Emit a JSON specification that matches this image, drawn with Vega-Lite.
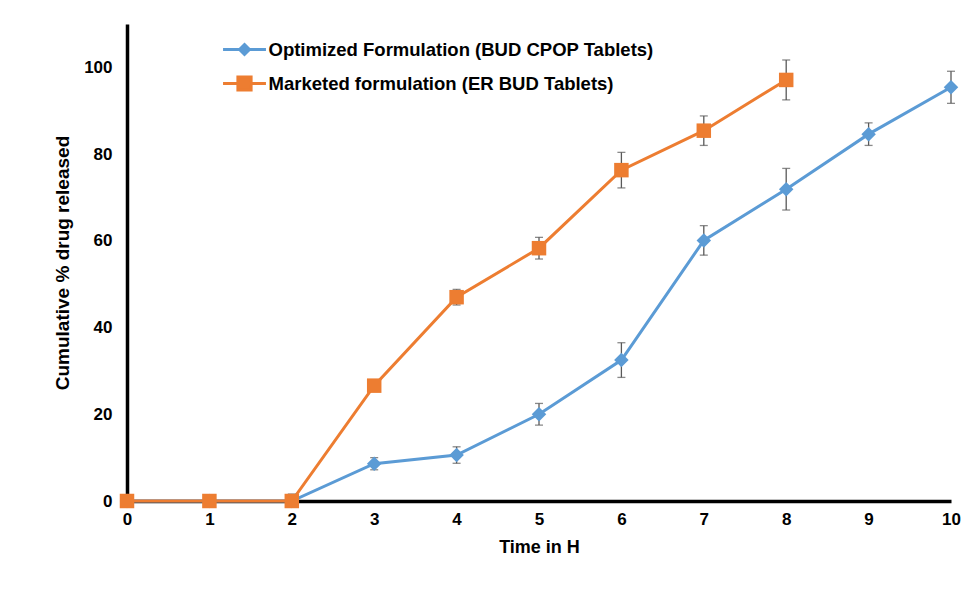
{
  "$schema": "https://vega.github.io/schema/vega-lite/v6.json",
  "width": 824,
  "height": 477,
  "autosize": "none",
  "padding": {"left": 127, "top": 24, "right": 26, "bottom": 98},
  "background": "white",
  "config": {
    "view": {"stroke": null},
    "font": "Liberation Sans"
  },
  "data": {
    "values": [
      {"series": "Optimized Formulation (BUD CPOP Tablets)", "t": 0, "v": 0, "lo": 0, "hi": 0},
      {"series": "Optimized Formulation (BUD CPOP Tablets)", "t": 1, "v": 0, "lo": 0, "hi": 0},
      {"series": "Optimized Formulation (BUD CPOP Tablets)", "t": 2, "v": 0, "lo": 0, "hi": 1.6},
      {"series": "Optimized Formulation (BUD CPOP Tablets)", "t": 3, "v": 8.6, "lo": 7.2, "hi": 10.0},
      {"series": "Optimized Formulation (BUD CPOP Tablets)", "t": 4, "v": 10.6, "lo": 8.7, "hi": 12.5},
      {"series": "Optimized Formulation (BUD CPOP Tablets)", "t": 5, "v": 20.0, "lo": 17.5, "hi": 22.5},
      {"series": "Optimized Formulation (BUD CPOP Tablets)", "t": 6, "v": 32.5, "lo": 28.5, "hi": 36.5},
      {"series": "Optimized Formulation (BUD CPOP Tablets)", "t": 7, "v": 60.1, "lo": 56.7, "hi": 63.5},
      {"series": "Optimized Formulation (BUD CPOP Tablets)", "t": 8, "v": 71.9, "lo": 67.1, "hi": 76.7},
      {"series": "Optimized Formulation (BUD CPOP Tablets)", "t": 9, "v": 84.6, "lo": 82.0, "hi": 87.2},
      {"series": "Optimized Formulation (BUD CPOP Tablets)", "t": 10, "v": 95.4, "lo": 91.7, "hi": 99.1},
      {"series": "Marketed formulation (ER BUD Tablets)", "t": 0, "v": 0, "lo": 0, "hi": 0},
      {"series": "Marketed formulation (ER BUD Tablets)", "t": 1, "v": 0, "lo": 0, "hi": 0},
      {"series": "Marketed formulation (ER BUD Tablets)", "t": 2, "v": 0, "lo": 0, "hi": 0},
      {"series": "Marketed formulation (ER BUD Tablets)", "t": 3, "v": 26.6, "lo": 26.1, "hi": 27.1},
      {"series": "Marketed formulation (ER BUD Tablets)", "t": 4, "v": 47.0, "lo": 45.2, "hi": 48.8},
      {"series": "Marketed formulation (ER BUD Tablets)", "t": 5, "v": 58.3, "lo": 55.8, "hi": 60.8},
      {"series": "Marketed formulation (ER BUD Tablets)", "t": 6, "v": 76.3, "lo": 72.2, "hi": 80.4},
      {"series": "Marketed formulation (ER BUD Tablets)", "t": 7, "v": 85.4, "lo": 82.0, "hi": 88.8},
      {"series": "Marketed formulation (ER BUD Tablets)", "t": 8, "v": 97.1, "lo": 92.5, "hi": 101.7}
    ]
  },
  "encoding": {
    "x": {
      "field": "t", "type": "quantitative",
      "scale": {"domain": [0, 10], "nice": false, "zero": false},
      "axis": {
        "title": "Time in H",
        "values": [0,1,2,3,4,5,6,7,8,9,10],
        "grid": false, "ticks": false, "labelFlush": false,
        "domainColor": "black", "domainWidth": 3.5,
        "labelFont": "Liberation Sans", "labelFontSize": 17, "labelFontWeight": "bold", "labelColor": "black",
        "labelPadding": 10,
        "titleFont": "Liberation Sans", "titleFontSize": 18, "titleFontWeight": "bold", "titleColor": "black",
        "titlePadding": 11
      }
    },
    "y": {
      "field": "v", "type": "quantitative",
      "scale": {"domain": [0, 110], "nice": false},
      "axis": {
        "title": "Cumulative % drug released",
        "values": [0, 20, 40, 60, 80, 100],
        "grid": false, "ticks": false, "labelFlush": false,
        "domainColor": "black", "domainWidth": 3.5,
        "labelFont": "Liberation Sans", "labelFontSize": 17, "labelFontWeight": "bold", "labelColor": "black",
        "labelPadding": 15,
        "titleFont": "Liberation Sans", "titleFontSize": 19, "titleFontWeight": "bold", "titleColor": "black",
        "titlePadding": 11
      }
    }
  },
  "layer": [
    {
      "mark": {"type": "line", "strokeWidth": 3},
      "encoding": {
        "color": {
          "field": "series", "type": "nominal",
          "scale": {"domain": ["Optimized Formulation (BUD CPOP Tablets)", "Marketed formulation (ER BUD Tablets)"], "range": ["#5B9BD5", "#ED7D31"]},
          "legend": {
            "title": null,
            "orient": "none",
            "legendX": 99.5,
            "legendY": 7.5,
            "padding": 0,
            "symbolSize": 1089,
            "rowPadding": 5,
            "labelOffset": 6,
            "labelLimit": 600,
            "labelFont": "Liberation Sans",
            "labelFontSize": 18.5,
            "labelFontWeight": "bold",
            "labelColor": "black",
            "encode": {
              "symbols": {
                "update": {
                  "shape": {"signal": "datum.value === 'Optimized Formulation (BUD CPOP Tablets)' ? 'M-1.3,0H1.3M0,-0.3L0.3,0L0,0.3L-0.3,0Z' : 'M-1.3,0H1.3M-0.4,-0.4H0.4V0.4H-0.4Z'"},
                  "stroke": {"signal": "datum.value === 'Optimized Formulation (BUD CPOP Tablets)' ? '#5B9BD5' : '#ED7D31'"},
                  "fill": {"signal": "datum.value === 'Optimized Formulation (BUD CPOP Tablets)' ? '#5B9BD5' : '#ED7D31'"},
                  "strokeWidth": {"value": 3},
                  "opacity": {"value": 1},
                  "fillOpacity": {"value": 1},
                  "strokeOpacity": {"value": 1}
                }
              }
            }
          }
        },
        "order": {"field": "t", "type": "quantitative"}
      }
    },
    {
      "mark": {"type": "rule", "color": "#595959", "strokeWidth": 1.3},
      "encoding": {
        "y": {"field": "lo", "type": "quantitative"},
        "y2": {"field": "hi"}
      }
    },
    {
      "mark": {"type": "tick", "color": "#595959", "thickness": 1.3, "size": 8, "orient": "horizontal"},
      "encoding": {
        "y": {"field": "lo", "type": "quantitative"}
      }
    },
    {
      "mark": {"type": "tick", "color": "#595959", "thickness": 1.3, "size": 8, "orient": "horizontal"},
      "encoding": {
        "y": {"field": "hi", "type": "quantitative"}
      }
    },
    {
      "transform": [{"filter": "datum.series === 'Optimized Formulation (BUD CPOP Tablets)'"}],
      "mark": {"type": "point", "filled": true, "opacity": 1, "size": 210, "shape": "diamond", "color": "#5B9BD5"},
      "encoding": {}
    },
    {
      "transform": [{"filter": "datum.series === 'Marketed formulation (ER BUD Tablets)'"}],
      "mark": {"type": "point", "filled": true, "opacity": 1, "size": 210, "shape": "square", "color": "#ED7D31"},
      "encoding": {}
    }
  ]
}
